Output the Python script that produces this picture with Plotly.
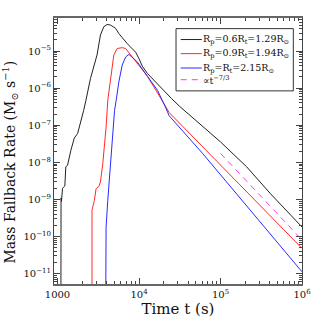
import plotly.graph_objects as go

# ---------------- data ----------------
black_t = [1100, 1100, 1105, 1119, 1153, 1230, 1265, 1327, 1459, 1607, 1766, 1941, 2094, 2234,
           2535, 3055, 3365, 3698, 4064, 4477, 5152, 5662, 6531, 7178, 8260, 9099, 10000,
           10990, 12650, 15310, 19950, 25120, 31620, 100000, 208900, 407400, 1000000]
black_rate = [1e-13, 6.3e-10, 1.1e-9, 8.9e-10, 2.0e-9, 2.3e-9, 7.6e-9, 8.3e-9, 2.1e-8, 4.5e-8,
              6.0e-8, 1.23e-7, 2.5e-7, 4.7e-7, 1.8e-6, 7.8e-6, 2.7e-5, 4.5e-5, 5.2e-5, 5.0e-5,
              4.1e-5, 2.95e-5, 1.95e-5, 1.58e-5, 1.15e-5, 9.3e-6, 6.2e-6, 3.9e-6, 2.5e-6,
              1.6e-6, 8.8e-7, 5.2e-7, 3.2e-7, 3.55e-8, 7.6e-9, 1.45e-9, 1.8e-10]

red_t = [2650, 2650, 2838, 2972, 3206, 3365, 3597, 3776, 3945, 4140, 4477, 4909, 5395, 6223,
         6855, 7907, 9528, 12650, 17660, 23440, 1000000]
red_rate = [1e-13, 5.1e-10, 9.5e-10, 1.95e-9, 2.2e-9, 2.95e-9, 9.3e-9, 2.6e-8, 8.9e-8, 4.7e-7,
            1.48e-6, 7.8e-6, 1.17e-5, 1.23e-5, 1.17e-5, 7.8e-6, 4.6e-6, 2.1e-6, 6.3e-7,
            2.2e-7, 4.8e-11]

blue_t = [3882, 3882, 3945, 4140, 4345, 4550, 4775, 5012, 5248, 5662, 6223, 6855, 7534, 8260,
          9528, 12650, 16830, 21380, 23440, 60260, 1000000]
blue_rate = [1e-13, 7.9e-11, 1.8e-10, 9.5e-10, 4.1e-9, 2.14e-8, 8.9e-8, 2.5e-7, 4.7e-7,
             1.48e-6, 4.2e-6, 6.9e-6, 8.1e-6, 6.9e-6, 5.1e-6, 2.1e-6, 8.8e-7, 2.9e-7,
             1.8e-7, 1.74e-8, 1.12e-11]

powerlaw_t = [100000, 1000000]
powerlaw_rate = [1.74e-8, 8.1e-11]

series_names = [
    "R<sub>p</sub>=0.6R<sub>t</sub>=1.29R<sub>⊙</sub>",
    "R<sub>p</sub>=0.9R<sub>t</sub>=1.94R<sub>⊙</sub>",
    "R<sub>p</sub>=R<sub>t</sub>=2.15R<sub>⊙</sub>",
    "∝t<sup>−7/3</sup>",
]
series_colors = ["#222222", "#ff2a2a", "#2a2aff", "#ff33ff"]
series_dash = ["solid", "solid", "solid", "6px,5px"]

x_title = "Time t (s)"
y_title = "Mass Fallback Rate (M<sub>⊙</sub> s<sup>−1</sup>)"
x_tickvals = [1000, 10000, 100000, 1000000]
x_ticktext = ["1000", "10<sup>4</sup>", "10<sup>5</sup>", "10<sup>6</sup>"]
y_tickvals = [1e-11, 1e-10, 1e-9, 1e-8, 1e-7, 1e-6, 1e-5]
y_ticktext = ["10<sup>−11</sup>", "10<sup>−10</sup>", "10<sup>−9</sup>", "10<sup>−8</sup>",
              "10<sup>−7</sup>", "10<sup>−6</sup>", "10<sup>−5</sup>"]

FONT = "DejaVu Serif"

fig = go.Figure()
data = [(black_t, black_rate), (red_t, red_rate), (blue_t, blue_rate), (powerlaw_t, powerlaw_rate)]
for (tx, ry), name, col, dash in zip(data, series_names, series_colors, series_dash):
    fig.add_trace(go.Scatter(x=tx, y=ry, mode="lines", name=name, hoverinfo="skip",
                             line=dict(color=col, width=1, dash=dash), showlegend=False))

# manual legend box (matches reference compact layout)
L_x0, L_x1, L_y0, L_y1 = 0.492, 0.965, 0.726, 0.960
fig.add_shape(type="rect", xref="paper", yref="paper", x0=L_x0, x1=L_x1, y0=L_y0, y1=L_y1,
              line=dict(color="#333333", width=1), fillcolor="white")
row_y = [0.919, 0.866, 0.812, 0.768]
for name, col, dash, yy in zip(series_names, series_colors, series_dash, row_y):
    fig.add_shape(type="line", xref="paper", yref="paper", x0=0.511, x1=0.596, y0=yy, y1=yy,
                  line=dict(color=col, width=1, dash=dash))
    fig.add_annotation(xref="paper", yref="paper", x=0.597, y=yy, text=name, showarrow=False,
                       xanchor="left", yanchor="middle", borderpad=0,
                       font=dict(family=FONT, size=9.5, color="#111"))

# y-axis title as a rotated annotation, centred on the plot area
fig.add_annotation(xref="paper", yref="paper", x=0, y=0.494, xshift=-44, yshift=-10,
                   text=y_title, showarrow=False, textangle=-90, xanchor="center",
                   yanchor="middle", font=dict(family=FONT, size=14, color="#111"))

minor_x = [m * 10 ** e for e in range(2, 6) for m in range(2, 10)]
minor_y = [m * 10.0 ** e for e in range(-12, -4) for m in range(2, 10)]

fig.update_xaxes(type="log", range=[2.957, 6.0], tickmode="array", tickvals=x_tickvals,
                 ticktext=x_ticktext, ticks="inside", ticklen=6, tickcolor="#444",
                 showline=True, linecolor="#666", linewidth=1.5, mirror="allticks",
                 showgrid=False, zeroline=False, automargin=False,
                 minor=dict(tickmode="array", tickvals=minor_x, ticks="inside", ticklen=3,
                            tickcolor="#444", showgrid=False),
                 tickfont=dict(family=FONT, size=10, color="#111"),
                 title=dict(text=x_title, font=dict(family=FONT, size=15, color="#111"),
                            standoff=3))
fig.update_yaxes(type="log", range=[-11.28, -4.11], tickmode="array", tickvals=y_tickvals,
                 ticktext=y_ticktext,
                 ticks="inside", ticklen=6, tickcolor="#444",
                 showline=True, linecolor="#444", linewidth=1, mirror="allticks",
                 showgrid=False, zeroline=False, automargin=False,
                 minor=dict(tickmode="array", tickvals=minor_y, ticks="inside", ticklen=3,
                            tickcolor="#444", showgrid=False),
                 tickfont=dict(family=FONT, size=10, color="#111"))

fig.update_layout(width=319, height=319, margin=dict(l=54, r=17, t=18, b=35),
                  plot_bgcolor="white", paper_bgcolor="white", showlegend=False,
                  hovermode=False)

fig.write_html("out.html", config={"displayModeBar": False},
               post_script="document.body.style.margin='0px';")
